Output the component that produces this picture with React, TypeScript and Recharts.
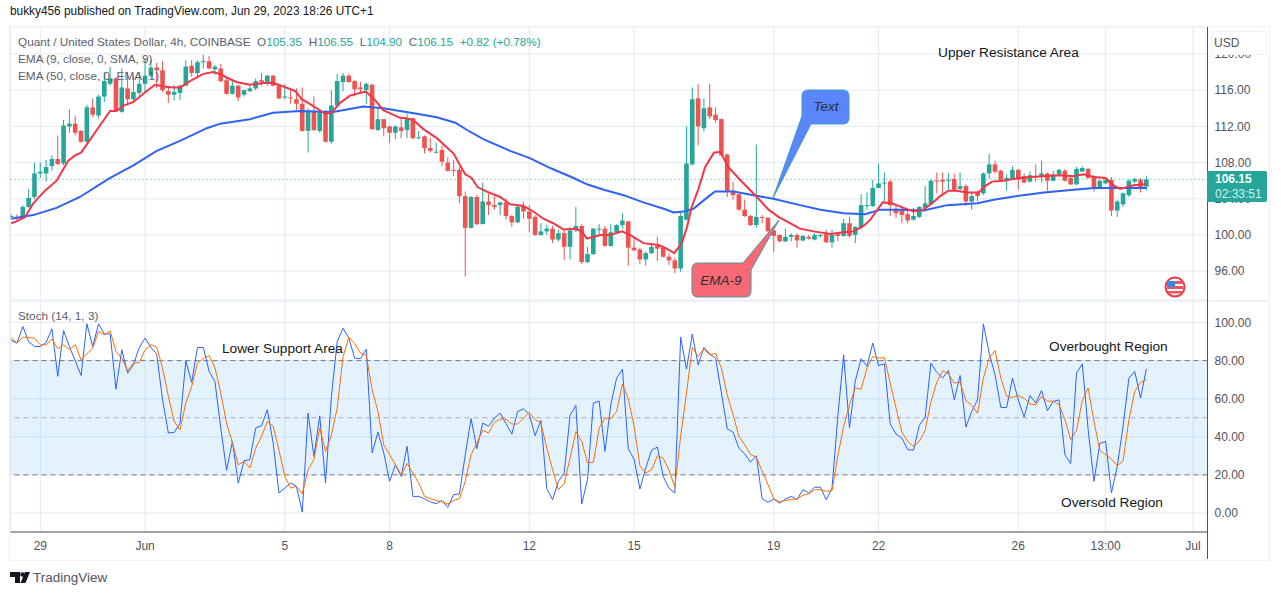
import React from "react";
import { ComposedChart, Bar, Line, XAxis, YAxis, CartesianGrid, ReferenceLine, ReferenceArea } from "recharts";

// [open, high, low, close] per 4h candle
const ohlcA = [
[102.0,102.3,101.9,102.1],[102.0,102.3,101.6,101.85],[101.95,103.3,101.85,103.1],[103.1,105.1,103,104.1],[104.2,108,104,106.8],[106.8,108,106.3,107],[106.8,108.3,105.9,107.5],[107.6,108.8,107.1,108.4],[108.4,111,107.7,107.85],[107.9,112.7,107.7,112.1],
[112,113.9,111.3,112.3],[112.3,113.2,111,111.3],[111.5,111.6,110.2,110.3],[110.3,114.4,110.2,114.1],[114.1,115.1,113,113.3],[113.2,115.5,112.9,115.3],[115.3,118,114.7,117],[116.7,118.6,116.5,117.3],[117.3,117.5,113.6,113.7],[113.6,118.4,113.5,116.3],
[116.2,118,114.3,115],[115,117.6,114.8,115.8],[115.7,118,115.4,116.7],[116.7,119.5,115.8,117.6],[117.6,119.3,117.4,118.5],[118.5,119,116.2,118.2],[118.2,119.2,115.8,116],[115.9,116.5,114.6,115.5],[115.5,116.6,114.9,115.8],[115.7,116.6,114.9,116.5],
[116.5,119.3,116.4,118.6],[118.7,119.3,117.5,117.9],[117.9,119.3,117.5,119.1],[119.1,119.9,118.4,119.2],[119.2,119.8,118.3,118.4],[118.3,118.8,117.7,118.6],[118.4,118.9,116.9,117],[117.1,117.5,115.5,115.6],[115.6,117,115.5,116.5],[116.5,116.6,114.8,115.2],
[115.5,116.1,115.3,116],[115.9,116.5,115.8,116.2],[116.2,117.3,116,117],[117.1,117.9,116.5,116.9],[116.9,117.7,116.5,117.6],[117.6,117.7,116.4,116.5],[116.5,116.7,115,115.1],[115.2,116.7,115,115.3],[115.2,116,114.5,115.1],[115,116.2,113.8,114.5],
[114.5,116.3,111.4,111.5],[111.5,114,109.1,113.7],[113.7,115.3,111.5,111.6],[111.5,113.8,111.3,113.6],[113.6,113.8,110.2,110.3],[110.3,116,110.1,114.3],[114.3,117.8,114.3,117],[116.9,117.9,115.9,117.6],[117.6,117.8,116.8,116.9],[117,117.1,115.3,116.1],
[116.3,116.9,115.6,116.1],[116,116.8,114.5,116.7],[116.6,116.7,111.6,111.7],[111.6,114,111.5,112.8],[112.8,112.8,110.9,111.8],[112,112.1,110.2,111.3],[111.3,112.1,110.6,112],
];
const ohlcB = [
[111.9,112.9,110.7,111.5],[111.6,113.4,110.7,112.8],[112.9,113,110.6,110.7],[110.7,111.5,110.6,110.8],[110.9,111,109,109.6],[109.6,110.7,109.1,109.3],[109.1,110.2,109,109.2],[109.4,109.9,107.6,108.1],[108,108.6,107,107.1],[107.2,108.3,106.5,107.15],
[107.2,107.5,103.5,104.3],[104.3,104.8,95.4,100.8],[100.8,104.3,100.7,104.2],[104.2,104.4,101.1,101.2],[101.2,105.8,101.2,103.7],[103.7,104.6,102.2,103.3],[103.3,104.3,102.8,103.1],[103.3,103.7,102.2,103.6],[103.6,104,101.7,102.1],[102.1,102.2,100.9,101.4],
[101.4,103.3,101.3,103.1],[103.2,103.7,101.8,102.6],[102.6,103.3,100.3,101.8],[102,102.2,99.9,100],[100,101.3,99.9,100.4],[100.4,101.1,100,100.7],[100.7,101,99.1,99.5],[99.5,100.6,99.3,100.2],[100.2,100.6,97.2,98.7],[98.7,100.9,97.3,100.5],
[100.5,103.1,100.3,101],[101,101.2,96.8,97],[97,98.7,96.9,97.9],[97.9,100.8,97.8,100.7],[100.6,101.2,100.1,100.7],[100.7,101,98.7,98.8],[98.8,101.2,98.7,100.3],[100.3,101.2,100.3,101.1],[101.1,102.4,100.7,101.6],[101.5,101.6,96.6,98.6],
[98.6,99.8,98.2,98.3],[98.4,98.6,96.8,97.3],[97.3,98.2,96.6,98],[98,99.1,97.9,98.7],[98.8,99.8,97.1,98.5],[98.6,98.8,97.5,97.6],[97.6,98,96.7,97.2],[97.2,97.5,95.8,96.3],[96.3,102.6,95.9,102.1],[101.7,112,101.6,107.9],
[107.8,116.3,107.7,115],[115.1,116.7,109.9,112],[111.8,115.1,111.4,114],[114.1,116.7,112.8,113.1],[113.3,114.1,112.4,112.7],[112.8,112.9,108.8,108.8],[108.9,109,104.2,104.8],[104.9,105.9,103.9,104.4],[104.5,104.6,102.7,102.8],[102.8,103.9,102,102.1],
[102.1,102.2,101,101.1],[101.1,110,100.8,102],[102,102.2,101.3,101.9],[101.9,102,100.4,100.4],[100.5,100.6,98.1,99.9],[100,100.1,99.2,99.3],[99.3,100.7,99.2,99.8],[99.8,100.2,99.3,100],[100,100.2,98.6,99.4],
];
const ohlcC = [
[99.4,100,99.3,99.9],[99.8,100,99.5,99.6],[99.5,100.2,99.4,100],[99.9,100.1,99.7,100],[100.1,100.6,99.1,99.2],[99.2,100.6,98.6,100],[100.1,100.2,99.3,99.9],[99.9,101.8,99.8,101.3],[101.3,102,99.7,99.9],[100,101,99.1,100.9],
[100.9,104.5,100.6,103.3],[103.2,104.7,102.8,103.3],[103.2,106.1,103.1,105.2],[105.2,107.9,105.2,105.7],[105.8,106.9,103.7,105.8],[105.9,106.1,102.1,103.3],[102.9,103.3,101.9,102.4],[102.8,103.2,101.3,102.2],[102.3,102.8,101.3,101.6],[101.7,103,101.6,102.1],
[102,103.2,101.9,103.1],[103,105.4,102.6,103.5],[103.4,106.1,103.3,106],[106,106.9,104.6,105.9],[106.1,106.9,104.4,105.9],[106.1,106.8,105,106.1],[106.2,106.8,104.8,105],[105.1,106.9,104.9,105.4],[105.4,105.6,103.2,103.7],[103.7,104.8,102.8,104.3],
[104.7,104.9,103.7,104.3],[104.6,106.9,104.4,106.8],[106.8,109,106.2,107.8],[107.8,108.2,106.8,107],[107.1,107.2,106,106.1],[106,106.7,104.9,106.3],[106.2,107.6,106.1,107.2],[107.2,107.3,105,106.2],[106.5,106.8,105.7,105.8],[105.9,107,105.8,106.6],
[106.5,107.8,105.9,106.4],[106.4,108.2,105.8,106.8],[106.8,106.9,104.9,106],[106,107.1,105.9,106.7],[106.7,107.3,106.6,107.2],[107.1,107.3,105.9,106],[106.3,106.5,105.5,105.6],[105.6,107.5,105.5,107.3],[107,107.6,107,107.4],[107.3,107.4,106.2,106.3],
[106.5,106.6,104.8,105.3],[105.3,106.1,105.2,106],[105.7,106.3,105.6,106.1],[106.1,106.4,102.1,102.7],[102.7,103.9,102,103.7],[103.4,104.7,103.1,104.6],[104.4,106.2,104.2,106],[105.9,106.3,105.7,106.2],[106.1,106.3,104.7,105.3],[105.35,106.55,104.9,106.15],
];

// EMA lines: [candle position, value]
const ema9Read = [
[0,101.3],[0.9,101.5],[2.4,102],[3.8,103.5],[5.8,104.9],[7.8,106],[9.8,108.2],[11,108.8],[12,109.1],[14.7,111.6],[17,113.7],[18.1,113.7],[19.3,114.3],[21,114.7],[22.7,115.6],[24.7,116.6],[26.1,116.4],[27.8,116.3],[29,116.3],[30.7,117],[33,117.8],[34.7,118],[36.2,117.7],[37,117.4],[38.7,116.9],[41,116.6],[43.3,116.8],[45,116.8],[46.8,116.4],[48.8,115.9],[49.9,115],[51,114.6],[52.5,114],[53.9,113.4],[55,113.5],[56.5,114.6],[58.2,115.4],[60.5,115.8],[61,115.8],[62.5,114.9],[63.9,113.8],[66.8,112.95],
[67.9,112.9],[69.1,112.7],[70.8,111.7],[73.1,110.7],[74.3,110],[76,109],[77.1,107.7],[78,106.7],[79.1,106.3],[80.1,105.3],[81.7,104.8],[84,104.2],[85.7,103.4],[88,103.2],[89.7,102.6],[91.4,101.8],[93.1,101.3],[94.9,100.6],[96.9,100.7],[98,100.4],[98.9,99.6],[101.2,100],[102.9,100],[104.9,100.4],[106.3,100],[108.6,99.1],[111.2,98.9],[112.6,98.5],[113.9,98],[115.2,99.1],[116.1,100.9],[116.9,103.1],[118,105],[119.2,107.5],[120.7,109.1],[121.8,109.2],[123.2,107.5],[125.2,106.1],[128.1,104.2],[130.1,102.8],[131.8,102],[135.5,100.7],
[137.8,100.4],[140.7,100.1],[143,100.3],[144.7,100.4],[146.4,101],[147.6,101.7],[149.7,103.6],[151.3,103.5],[153.3,103],[155,102.6],[156.7,102.8],[158.2,103.5],[159.6,104.3],[161,104.9],[162.4,104.9],[164.2,104.7],[166.2,104.7],[167.3,105.4],[168.5,105.9],[170.5,106],[172.2,106.2],[175,106.4],[177.3,106.5],[180.2,106.6],[182.5,106.5],[184.2,106.7],[186,106.4],[188,106.3],[189.1,105.6],[190.5,105.1],[192.8,105.5],[195,105.6],
];
const ema50Read = [
[0,101.8],[3.8,102.2],[7.8,103],[11.8,104.2],[17,106.3],[21,107.7],[25,109.3],[29,110.4],[33.6,111.8],[35.9,112.3],[41,112.8],[45,113.5],[49.6,113.7],[55.3,113.6],[60.5,114.2],[63.9,114],[66.8,113.7],
[69.7,113.4],[73.1,113],[76.3,112.4],[78.3,111.6],[81.1,110.6],[85.7,109.3],[89.1,108.5],[92.6,107.4],[96.6,106.3],[98.9,105.6],[101.8,105],[105.2,104.4],[108.6,103.6],[112.1,102.9],[113.8,102.5],[115.5,102.6],[117.2,102.9],[118.9,103.8],[120.9,104.8],[124.1,104.8],[127.5,104.4],[130.9,104],[135.5,103.3],
[139,102.8],[143,102.4],[146.7,102.3],[149.3,102.8],[152.7,102.8],[156.7,102.7],[160.8,103.3],[166,103.5],[168.8,103.9],[172.8,104.3],[177.4,104.7],[182.5,105],[186,105.2],[188.8,105.2],[195,105.2],
];

// Stochastic %K
const stochKA = [90.6,89.2,97.9,90,87.4,87.4,89.5,96.7,71.7,95.8,87.4,79.9,72.2,99.3,87.4,99.3,94,94,65,85.7,73.4,77.8,86.9,91.8,86.9,83.4,59.4,42,42.3,47.2,79.9,68.5,86.9,86.9,74.3,69,44.6,22.4,37.6,15.7,27.4,28,44.6,45.8,54.2,36.7,10.5,13,15.7,14,0.5,52.4,29.7,51,15.7,61.2,90,97,91.8,81.3,81,86,31.5,42.5,31.5,16.6,25.3,19.2,35,8.7,8.7];
const stochKB = [7.5,5.8,4.9,6.5,3,9.6,10,30.6,49.5,33.7,47.2,45.5,49.8,52.4,46.9,41.4,53.3,54.7,51.6,40.6,48.6,12.8,7,16.6,21,51.2,56.5,4.7,17.5,57.7,58.7,32.3,56.8,70.8,75.5,33.7,28.3,12.6,23.6,32.9,34.6,19.2,13,10.5,92.3,75.5,93.9,77.8,86.9,83.4,81.3,63,44.2,42.5,34,31,26.7,30,7.5,5.6,7.3,5.2,7.3,8.7,7,12.2,10.5,13.5,13.5,7,13,50.7];
const stochKC = [83,44.6,69.4,81,77,89.2,77.4,78.3,46.7,41.4,39.3,33.2,33,46,50.3,78.7,73.8,70.8,74.8,59.4,72.2,45.1,53.3,59.4,99.3,83.9,72.6,55.4,55.4,70.8,59.4,50.3,61.7,57.7,64.3,53.7,58.6,59.4,30.6,25.9,73.4,78.3,43.7,16.6,36.4,37.6,10.5,24.5,45.5,70.8,74.3,60.3,75.7];
// Stochastic %D
const stochDA = [91.8,89.2,92.3,92.1,91.8,88.3,88.3,91.3,86.2,88.3,85.7,88.3,80.4,83.6,86.5,95.3,93.5,95.6,84.8,81.3,74.7,78.7,79,85.7,88.3,87.1,76,61.2,48,43.7,57.7,66.4,78.7,81,82.7,76.4,62.9,47.2,36.7,25.3,27,23.6,34,40.2,48,45.5,33,19.2,13,14,10,22.7,28,44.6,32.3,41,55,82,92.3,89,84,82.7,64.7,53.3,35.8,30.6,25.3,20,26,21,15.7];
const stochDB = [8.7,7.5,6.5,6,4.7,6.6,7.5,16.6,30.6,36.7,43.4,42,47.6,49.3,49.3,46.7,46.7,49.8,52.8,49,47.2,34,22.7,12.2,15.4,28.8,42.8,37.6,26.2,26.6,44.6,49.8,49.5,53.3,67.7,60,45.5,24.8,21,22.7,30,28.8,22.4,13.6,40.2,63,87,82.2,86.2,83,83.9,76,62,51.6,40.2,35.8,30.6,29.4,21.9,14.9,7.5,5.8,6.6,7,7.5,9.3,10,12.2,12.2,11.4,11.7,30];
const stochDC = [45.5,56.8,65.6,65,76,82.2,81.3,81.6,68.2,55,42.5,37.6,35,37.6,43.4,58.6,68.7,74.7,73,68.2,68.7,58.9,56.5,52.4,70.8,81.3,85.3,70.8,61.2,60.7,61.7,60.3,57.2,56.8,61.2,58.7,58.7,56.8,49,38.5,43.4,59.1,65.6,48,32.9,30.6,28.3,24.8,27.4,49,63.8,68.5,69.9];

const timeTickPositions = [5, 23, 47, 65, 89, 107, 131, 149, 173, 188, 203];
const timeTickLabels = ["29", "Jun", "5", "8", "12", "15", "19", "22", "26", "13:00", "Jul"];
const priceTicks = [96, 100, 104, 108, 112, 116, 120];
const stochTicks = [0, 20, 40, 60, 80, 100];
const lastPrice = 106.15;

const candles = [...ohlcA, ...ohlcB, ...ohlcC].map(([o, h, l, c], i) => ({ i, o, h, l, c, range: [l, h] }));
const toPoints = (rows: number[][]) => rows.map(([i, v]) => ({ i, v }));
const ema9Points = toPoints(ema9Read);
const ema50Points = toPoints(ema50Read);
const stochK = [...stochKA, ...stochKB, ...stochKC];
const stochD = [...stochDA, ...stochDB, ...stochDC];
const stochRows = stochK.map((k, i) => ({ i, k, d: stochD[i] }));

const FONT = "'Liberation Sans', sans-serif";
const UP = "#26a69a";
const DOWN = "#ef5350";
const GRID = "#e2ebf2";
const AXIS = "#50535e";
const BODY_W = 4.6;
const X_DOMAIN: [number, number] = [-0.12, 205.5];

const Candle = (props: any) => {
  const { x, y, width, height, payload } = props;
  const { o, h, l, c } = payload;
  const k = h > l ? height / (h - l) : 0;
  const color = c >= o ? UP : DOWN;
  const top = y + (h - Math.max(o, c)) * k;
  const bodyH = Math.max(Math.abs(o - c) * k, 1);
  const cx = x + width / 2;
  return (
    <g>
      <rect x={cx - 0.5} y={y} width={1} height={height} fill={color} />
      <rect x={cx - BODY_W / 2} y={top} width={BODY_W} height={bodyH} fill={color} />
    </g>
  );
};

const label = (left: number, top: number, text: React.ReactNode, extra: React.CSSProperties = {}) => (
  <div style={{ position: "absolute", left, top, whiteSpace: "pre", fontFamily: FONT, fontSize: 11.75, lineHeight: "16px", color: "#5a5e6b", ...extra }}>{text}</div>
);
const val = (t: string) => <span style={{ color: UP }}>{t}</span>;

export default function App() {
  return (
    <div style={{ position: "absolute", left: 0, top: 0, width: 1281, height: 595, background: "#fff", overflow: "hidden" }}>
      <div style={{ position: "absolute", left: 0, top: 27 }}>
        <ComposedChart width={1281} height={273} data={candles} margin={{ top: 0, right: 0, bottom: 0, left: 10.5 }}>
          <CartesianGrid stroke={GRID} strokeWidth={1} />
          <XAxis dataKey="i" type="number" domain={X_DOMAIN} ticks={timeTickPositions} hide allowDataOverflow />
          <YAxis orientation="right" width={73.5} domain={[92.82, 122.98]} ticks={priceTicks} allowDataOverflow interval={0}
            tickFormatter={(v: number) => v.toFixed(2)} tickLine={false} tickSize={0} tickMargin={7}
            axisLine={{ stroke: AXIS }} tick={{ fontFamily: FONT, fontSize: 12, fill: AXIS }} />
          <ReferenceLine y={lastPrice} stroke={UP} strokeDasharray="1 3" />
          <Bar dataKey="range" barSize={5} shape={<Candle />} isAnimationActive={false} />
          <Line data={ema50Points} dataKey="v" type="linear" stroke="#2f62f5" strokeWidth={2} dot={false} isAnimationActive={false} />
          <Line data={ema9Points} dataKey="v" type="linear" stroke="#f23645" strokeWidth={2} dot={false} isAnimationActive={false} />
        </ComposedChart>
      </div>

      <div style={{ position: "absolute", left: 0, top: 300 }}>
        <ComposedChart width={1281} height={260} data={stochRows} margin={{ top: 1, right: 0, bottom: 0, left: 10.5 }}>
          <ReferenceArea y1={20} y2={80} fill="#2196f3" fillOpacity={0.12} stroke="none" />
          <CartesianGrid stroke={GRID} strokeWidth={1} />
          <XAxis dataKey="i" type="number" domain={X_DOMAIN} ticks={timeTickPositions} height={28} interval={0} allowDataOverflow
            tickFormatter={(v: number) => timeTickLabels[timeTickPositions.indexOf(v)]} tickLine={false} tickSize={0} tickMargin={9}
            axisLine={{ stroke: AXIS }} tick={{ fontFamily: FONT, fontSize: 12, fill: AXIS }} />
          <YAxis orientation="right" width={73.5} domain={[-10, 111.3]} ticks={stochTicks} allowDataOverflow interval={0}
            tickFormatter={(v: number) => v.toFixed(2)} tickLine={false} tickSize={0} tickMargin={7}
            axisLine={{ stroke: AXIS }} tick={{ fontFamily: FONT, fontSize: 12, fill: AXIS }} />
          <ReferenceLine y={80} stroke="#787b86" strokeDasharray="5 4" />
          <ReferenceLine y={50} stroke="#a9acb5" strokeDasharray="5 4" />
          <ReferenceLine y={20} stroke="#787b86" strokeDasharray="5 4" />
          <Line dataKey="k" type="linear" stroke="#2962ff" strokeWidth={1} dot={false} isAnimationActive={false} />
          <Line dataKey="d" type="linear" stroke="#ff6d00" strokeWidth={1} dot={false} isAnimationActive={false} />
        </ComposedChart>
      </div>

      {/* frame and pane separator */}
      <div style={{ position: "absolute", left: 9, top: 26, width: 1259, height: 533, border: "1.5px solid #eef1f7", pointerEvents: "none" }} />
      <div style={{ position: "absolute", left: 10, top: 300, width: 1258, height: 1.5, background: "#eef1f7" }} />
      <div style={{ position: "absolute", left: 1207, top: 27, width: 1, height: 532, background: AXIS }} />

      {/* header and legends */}
      {label(10, 3, "bukky456 published on TradingView.com, Jun 29, 2023 18:26 UTC+1", { color: "#131722", fontSize: 11.85 })}
      {label(18, 34, <>Quant / United States Dollar, 4h, COINBASE{"  "}O{val("105.35")}{"  "}H{val("106.55")}{"  "}L{val("104.90")}{"  "}C{val("106.15")}{"  "}{val("+0.82 (+0.78%)")}</>)}
      {label(18, 51, "EMA (9, close, 0, SMA, 9)")}
      {label(18, 68, "EMA (50, close, 0, EMA, 1)")}
      {label(18, 308, "Stoch (14, 1, 3)")}

      {/* annotations */}
      {label(938, 45, "Upper Resistance Area", { color: "#131722", fontSize: 13.7 })}
      {label(222, 341, "Lower Support Area", { color: "#131722", fontSize: 13.7 })}
      {label(1049, 339, "Overbought Region", { color: "#131722", fontSize: 13.7 })}
      {label(1061, 495, "Oversold Region", { color: "#131722", fontSize: 13.7 })}

      {/* callouts, flag, logo */}
      <svg width={1281} height={595} style={{ position: "absolute", left: 0, top: 0, pointerEvents: "none" }}>
        <path d="M808 90 H843 Q849 90 849 96 V118 Q849 124 843 124 H811 L773 198 L802 116 V96 Q802 90 808 90 Z" fill="#5b85fa" stroke="#3f9cc4" strokeWidth={1} />
        <text x={826} y={111} textAnchor="middle" fontFamily={FONT} fontSize={13.5} fontStyle="italic" fill="#2a2e39">Text</text>
        <path d="M698 263 H743 L779 220 L751 270 V291 Q751 297 745 297 H698 Q692 297 692 291 V269 Q692 263 698 263 Z" fill="#f76a75" stroke="#4f8f9f" strokeWidth={1} />
        <text x={721} y={285} textAnchor="middle" fontFamily={FONT} fontSize={13.5} fontStyle="italic" fill="#2a2e39">EMA-9</text>

        <circle cx={1175} cy={287} r={9.5} fill="#fff" stroke="#f23645" strokeWidth={2} />
        <rect x={1167} y={281} width={16} height={3} fill="#f7525f" />
        <rect x={1167} y={286} width={16} height={3} fill="#f7525f" />
        <rect x={1168} y={291} width={14} height={2.5} fill="#f7525f" />
        <rect x={1167} y={281} width={8} height={6} fill="#2f8fe8" />

        <path d="M10 572 H20 V583 H15 V577 H10 Z" fill="#131722" />
        <circle cx={22.5} cy={574.5} r={2.3} fill="#131722" />
        <path d="M25 572 H30 L25.5 583 H20.5 Z" fill="#131722" />
      </svg>
      {label(33, 570, "TradingView", { color: "#50535e", fontSize: 13.5 })}

      {/* price scale widgets */}
      <div style={{ position: "absolute", left: 1211, top: 31, width: 56, height: 24, boxSizing: "border-box", background: "#fff", border: "1.5px solid #eef1f7", borderRadius: 4, fontFamily: FONT, fontSize: 12, lineHeight: "22px", paddingLeft: 2, color: AXIS }}>USD</div>
      <div style={{ position: "absolute", left: 1207, top: 171, width: 60, height: 31, background: UP, borderRadius: "0 2px 2px 0", fontFamily: FONT, fontSize: 12, lineHeight: "15px", color: "#fff", paddingLeft: 8, boxSizing: "border-box", paddingTop: 1 }}>
        <div style={{ fontWeight: 600 }}>106.15</div>
        <div style={{ color: "#d6f0ed" }}>02:33:51</div>
      </div>
    </div>
  );
}
